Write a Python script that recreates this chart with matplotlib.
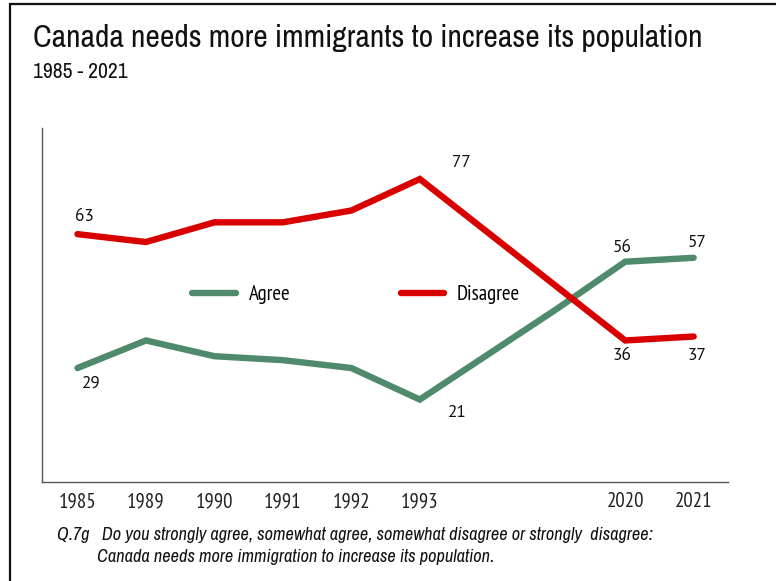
import numpy as np
import matplotlib
matplotlib.use("Agg")
import matplotlib.pyplot as plt
from matplotlib.patches import Rectangle

# survey years; blank slots keep the gap between 1993 and 2020
years = ["1985", "1989", "1990", "1991", "1992", "1993", "", "", "2020", "2021"]
agree = [29, 36, 32, 31, 29, 21, np.nan, 44, 56, 57]
disagree = [63, 61, 66, 66, 69, 77, np.nan, np.nan, 36, 37]

green = "#4e8a6b"
red = "#d90000"
narrow = ["Archivo Narrow", "Liberation Sans Narrow", "DejaVu Sans"]
cond = ["PT Sans Narrow", "DejaVu Sans"]
body = ["PT Sans", "Lato", "DejaVu Sans"]

fig = plt.figure(figsize=(7.76, 5.81), dpi=100)
ax = fig.add_axes([0.054, 0.170, 0.884, 0.610])

x = np.arange(len(years))
for vals, col, name in [(agree, green, "Agree"), (disagree, red, "Disagree")]:
    v = np.array(vals, dtype=float)
    ok = ~np.isnan(v)
    ax.plot(x[ok], v[ok], color=col, lw=4.6, solid_capstyle="round",
            solid_joinstyle="miter", label=name)

# value labels: (series, index, dx, dy) in pixels
labels = [(disagree, 0, 7, 17), (agree, 0, 14, -16),
          (disagree, 5, 42, 16), (agree, 5, 38, -13),
          (agree, 8, -3, 14), (agree, 9, 3, 15),
          (disagree, 8, -3, -16), (disagree, 9, 3, -19)]
for s, i, dx, dy in labels:
    ax.annotate(f"{s[i]:.0f}", (x[i], s[i]), xytext=(dx, dy),
                textcoords="offset pixels", ha="center", va="center",
                fontsize=12.5, family=body, color="#111111")

ax.set_xlim(-0.52, 9.5)
ax.set_ylim(0, 90)
ax.set_xticks(x)
ax.set_xticklabels(years, family=cond, fontsize=15, color="#222222")
ax.tick_params(length=0, pad=7)
ax.set_yticks([])
for sp in ["top", "right"]:
    ax.spines[sp].set_visible(False)
for sp in ["left", "bottom"]:
    ax.spines[sp].set_color("#555555")
    ax.spines[sp].set_linewidth(1.0)

leg = ax.legend(loc="center", bbox_to_anchor=(0.458, 0.530), ncol=2,
                frameon=False, handlelength=2.1, handletextpad=0.6,
                columnspacing=5.3, prop={"family": cond, "size": 15})
for h in leg.legend_handles:
    h.set_solid_capstyle("round")

fig.text(0.0425, 0.9346, "Canada needs more immigrants to increase its population",
         family=narrow, fontsize=22.7, va="center", ha="left", color="#111111")
fig.text(0.0425, 0.876, "1985 - 2021", family=narrow, fontsize=15.5,
         va="center", ha="left", color="#111111")

fig.text(0.0735, 0.0792,
         "Q.7g   Do you strongly agree, somewhat agree, somewhat disagree or strongly  disagree:",
         family=narrow, style="italic", fontsize=13.2, va="center", ha="left", color="#111111")
fig.text(0.125, 0.0413, "Canada needs more immigration to increase its population.",
         family=narrow, style="italic", fontsize=13.2, va="center", ha="left", color="#111111")

# slide border on the left and top
fig.add_artist(Rectangle((10 / 776, -0.1), 1.2, 1.1 - 3.5 / 581, transform=fig.transFigure,
                         fill=False, edgecolor="#111111", lw=1.6))

fig.savefig("out.png", dpi=100)
